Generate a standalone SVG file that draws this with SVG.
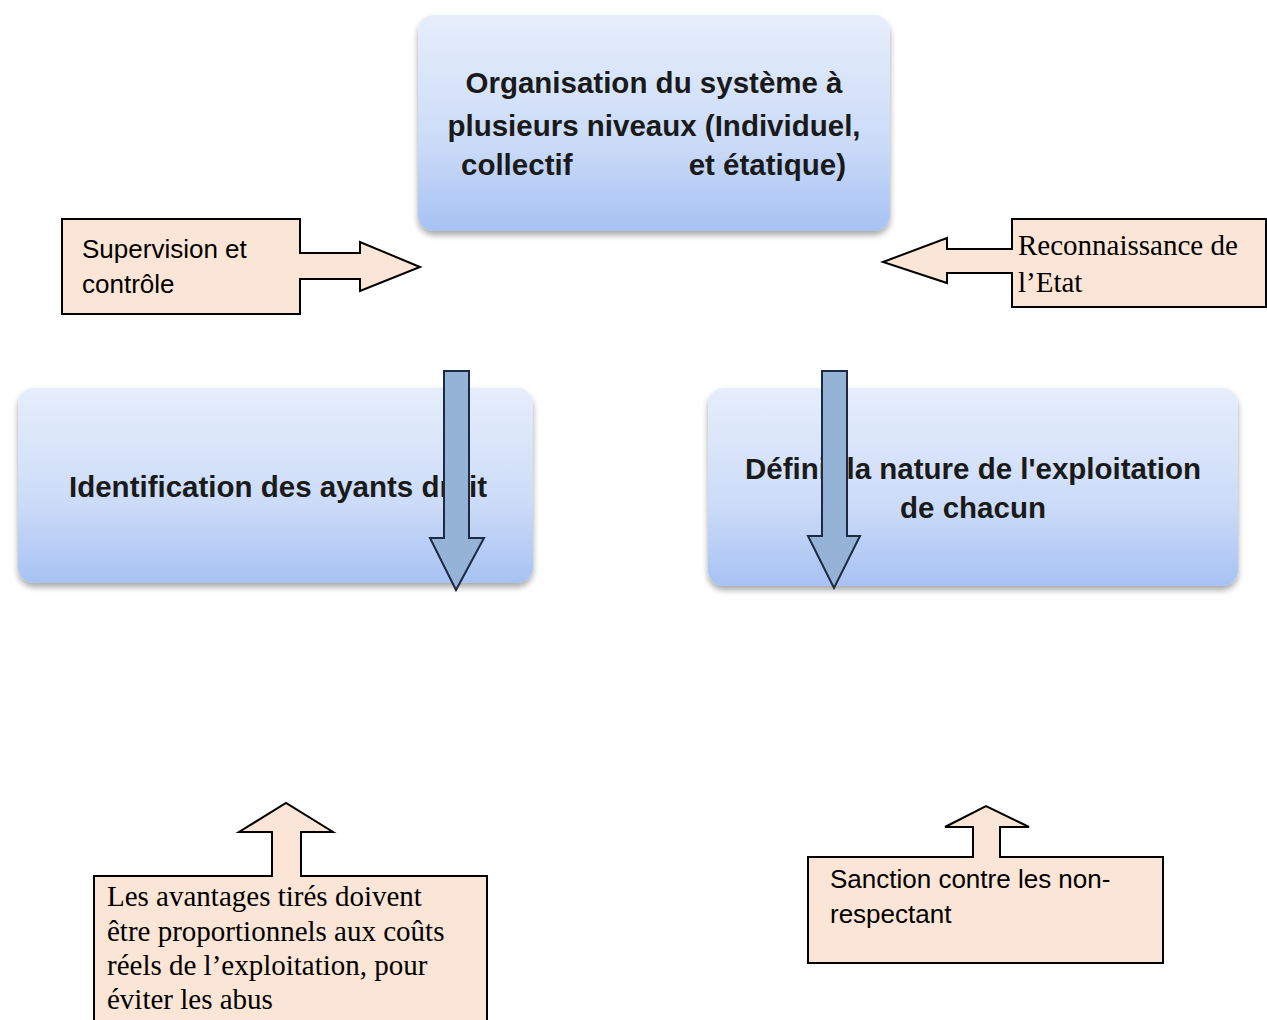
<svg xmlns="http://www.w3.org/2000/svg" width="1267" height="1020" viewBox="0 0 1267 1020">
<defs>
<linearGradient id="bg" x1="0" y1="0" x2="0" y2="1">
<stop offset="0" stop-color="#e6eefb"/>
<stop offset="0.6" stop-color="#cbdbf8"/>
<stop offset="1" stop-color="#a7c2f3"/>
</linearGradient>
<filter id="sh" x="-10%" y="-10%" width="120%" height="130%">
<feGaussianBlur in="SourceAlpha" stdDeviation="3"/>
<feOffset dx="0" dy="4"/>
<feComponentTransfer><feFuncA type="linear" slope="0.35"/></feComponentTransfer>
<feMerge><feMergeNode/><feMergeNode in="SourceGraphic"/></feMerge>
</filter>
<style>
.box{fill:url(#bg);filter:url(#sh);}
.bt{font-family:"Liberation Sans",Arial,sans-serif;font-weight:bold;font-size:29.5px;fill:#1a1a1a;}
.call{fill:#fbe5d6;stroke:#000;stroke-width:2;}
.sans{font-family:"Liberation Sans",Arial,sans-serif;font-size:26px;fill:#000;}
.serif{font-family:"Liberation Serif","Times New Roman",serif;font-size:29px;fill:#000;}
.down{fill:#95b3d7;stroke:#1c2a44;stroke-width:2;}
</style>
</defs>
<rect width="1267" height="1020" fill="#fff"/>
<g id="node-organisation">
<rect class="box" x="418" y="15" width="472" height="216" rx="16"/>
<text class="bt" x="654" y="93" text-anchor="middle">Organisation du système à</text>
<text class="bt" x="654" y="136" text-anchor="middle">plusieurs niveaux (Individuel,</text>
<text class="bt" x="461" y="175">collectif</text>
<text class="bt" x="846" y="175" text-anchor="end">et étatique)</text>
</g>
<g id="node-identification">
<rect class="box" x="18" y="388" width="515" height="195" rx="16"/>
<text class="bt" x="278" y="497" text-anchor="middle">Identification des ayants droit</text>
</g>
<g id="node-definir">
<rect class="box" x="708" y="388" width="530" height="198" rx="16"/>
<text class="bt" x="973" y="479" text-anchor="middle">Définir la nature de l'exploitation</text>
<text class="bt" x="973" y="518" text-anchor="middle">de chacun</text>
</g>
<g id="node-supervision">
<path class="call" d="M62,219 H300 V253 H360 V242 L420,267 L360,291 V279 H300 V314 H62 Z"/>
<text class="sans" x="82" y="258">Supervision et</text>
<text class="sans" x="82" y="293">contrôle</text>
</g>
<g id="node-reconnaissance">
<path class="call" d="M1012,219 H1266 V307 H1012 V273 H947 V283 L883,262 L947,238 V249 H1012 Z"/>
<text class="serif" x="1018" y="255">Reconnaissance de</text>
<text class="serif" x="1018" y="292">l’Etat</text>
</g>
<g id="node-avantages">
<path class="call" d="M94,1022 V876 H272 V832 H239 L286,803 L333,832 H301 V876 H487 V1022"/>
<text class="serif" x="107" y="906">Les avantages tirés doivent</text>
<text class="serif" x="107" y="941">être proportionnels aux coûts</text>
<text class="serif" x="107" y="975">réels de l’exploitation, pour</text>
<text class="serif" x="107" y="1009">éviter les abus</text>
</g>
<g id="node-sanction">
<path class="call" d="M808,857 H973 V827 H945 L986,806 L1029,827 H1000 V857 H1163 V963 H808 Z"/>
<text class="sans" x="830" y="888">Sanction contre les non-</text>
<text class="sans" x="830" y="923">respectant</text>
</g>
<g id="connectors">
<path class="down" d="M444,371 H469 V538 H484 L456,590 L430,538 H444 Z"/>
<path class="down" d="M822,371 H847 V536 H860 L834,588 L808,536 H822 Z"/>
</g>
</svg>
